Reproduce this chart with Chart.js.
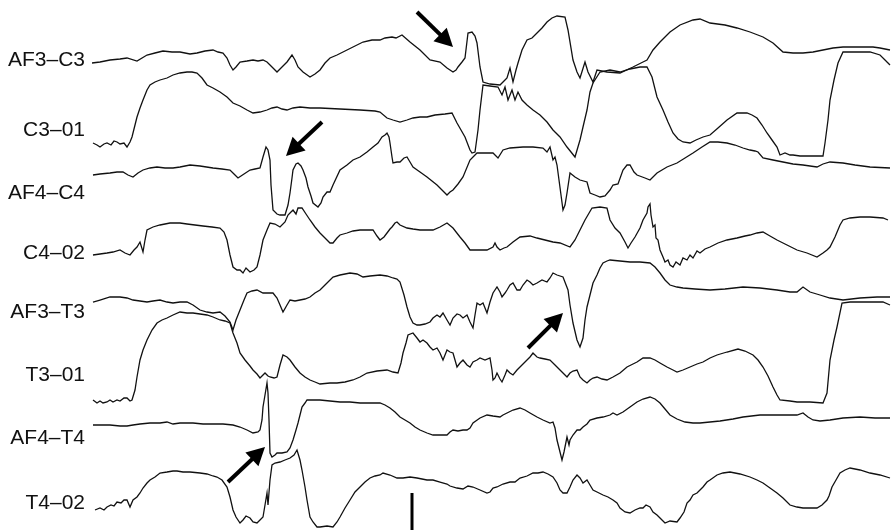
<!DOCTYPE html>
<html>
<head>
<meta charset="utf-8">
<script src="https://cdn.jsdelivr.net/npm/chart.js@4/dist/chart.umd.min.js"></script>
<style>
  html, body { margin: 0; padding: 0; background: #fff; }
  #wrap { width: 891px; height: 530px; }
</style>
</head>
<body>
<div id="wrap"><canvas id="c" width="891" height="530"></canvas></div>
<script>
// Channel names (top to bottom)
const channelNames = ["AF3\u2013C3", "C3\u201301", "AF4\u2013C4", "C4\u201302", "AF3\u2013T3", "T3\u201301", "AF4\u2013T4", "T4\u201302"];

// Each channel: [time (samples), amplitude (positive up)]
const af3c3 = [[2,-3],[10,-2],[20,0],[30,1],[37,2],[47,-1],[57,5],[65,7],[73,9],[82,8],[90,8],[100,6],[107,7],[115,9],[123,10],[128,8],[133,7],[137,2],[140,-5],[143,-10],[146,-7],[150,-2],[157,-1],[163,0],[168,-1],[173,0],[177,-2],[180,-5],[184,-9],[187,-12],[192,-7],[197,-2],[202,5],[205,0],[208,-7],[213,-12],[220,-17],[225,-14],[230,-10],[235,-3],[240,2],[247,5],[255,9],[263,13],[273,18],[282,20],[290,20],[295,22],[302,23],[306,22],[312,25],[320,18],[330,10],[340,0],[350,-2],[357,-8],[363,-12],[366,-10],[368,-7],[372,-2],[375,2],[378,27],[382,28],[385,24],[387,17],[390,-7],[393,-22],[400,-24],[410,-25],[415,-20],[417,-18],[420,-8],[423,-22],[426,-10],[428,-3],[432,10],[437,20],[442,22],[447,27],[452,32],[457,38],[462,42],[467,44],[475,43],[478,30],[483,0],[487,-12],[490,-18],[495,-2],[498,-12],[503,-22],[507,-10],[517,-12],[530,-13],[543,-7],[553,-2],[557,0],[563,10],[570,18],[580,28],[590,35],[603,40],[610,41],[620,37],[635,35],[647,32],[660,28],[673,23],[683,17],[693,8],[703,7],[713,7],[723,8],[733,10],[743,12],[753,13],[768,13],[783,13],[790,12],[800,10]];

const c3o1 = [[3,-13],[7,-15],[10,-17],[14,-14],[17,-13],[21,-15],[24,-11],[27,-12],[30,-14],[34,-13],[37,-17],[40,-12],[42,-7],[45,5],[47,13],[50,22],[53,30],[57,40],[60,45],[65,48],[70,50],[77,52],[83,55],[90,57],[97,58],[102,58],[107,57],[112,52],[117,45],[123,42],[130,38],[137,33],[143,27],[150,24],[157,20],[163,17],[170,18],[177,20],[182,22],[187,23],[192,21],[197,20],[203,22],[210,23],[220,22],[230,22],[250,21],[270,20],[285,19],[290,18],[297,12],[303,10],[310,8],[317,10],[323,12],[330,13],[337,13],[345,15],[355,16],[362,17],[367,7],[375,-7],[380,-20],[382,-23],[385,-22],[388,0],[390,20],[393,45],[400,44],[408,43],[412,35],[415,43],[418,30],[422,40],[425,30],[428,38],[432,30],[437,25],[443,20],[450,15],[457,8],[463,0],[470,-7],[477,-17],[481,-22],[485,-27],[490,-10],[493,3],[497,20],[500,38],[503,47],[510,58],[520,60],[530,58],[540,61],[550,63],[557,63],[562,53],[567,33],[573,20],[578,8],[583,-3],[588,-9],[593,-12],[600,-13],[606,-10],[613,-7],[620,-5],[628,2],[637,10],[647,17],[657,17],[662,15],[667,12],[672,5],[677,-3],[682,-10],[687,-17],[690,-25],[695,-23],[700,-25],[703,-25],[710,-26],[720,-26],[733,-26],[735,-13],[738,10],[740,30],[744,50],[748,67],[753,78],[765,78],[780,78],[790,75],[795,70],[800,65]];

const af4c4 = [[3,18],[10,19],[20,20],[27,21],[33,21],[38,18],[43,16],[48,20],[53,23],[60,25],[67,26],[75,25],[83,25],[90,26],[100,28],[110,27],[123,25],[132,24],[140,23],[144,19],[148,15],[154,19],[160,23],[165,24],[170,25],[173,36],[176,46],[178,43],[180,33],[181,8],[183,-17],[187,-21],[190,-22],[195,-22],[198,-12],[200,0],[202,15],[203,23],[206,29],[208,30],[211,27],[213,23],[216,15],[218,6],[221,-3],[223,-10],[228,-14],[231,-10],[233,-4],[237,1],[240,1],[243,8],[250,23],[257,28],[263,33],[270,36],[277,41],[283,46],[288,50],[292,56],[295,58],[297,60],[299,56],[300,50],[302,36],[303,30],[307,31],[310,31],[314,35],[317,36],[320,31],[323,26],[330,21],[337,16],[347,8],[357,-2],[360,1],[363,3],[368,9],[373,16],[380,33],[387,40],[395,40],[403,40],[408,35],[413,43],[420,45],[433,46],[443,46],[453,45],[457,41],[460,46],[463,33],[465,36],[467,28],[469,13],[471,-2],[473,-17],[475,-12],[477,0],[480,20],[485,16],[490,13],[497,11],[500,0],[505,-2],[510,-4],[515,-3],[520,3],[523,8],[528,9],[533,23],[537,28],[540,28],[544,21],[547,18],[555,15],[560,13],[567,20],[577,26],[587,30],[595,35],[603,40],[612,46],[620,51],[628,51],[637,50],[645,48],[653,45],[660,43],[665,42],[668,41],[673,35],[683,33],[693,31],[703,29],[713,28],[727,26],[733,29],[740,31],[753,30],[765,28],[780,26],[800,25]];

const c4o2 = [[3,-2],[10,-1],[17,0],[23,1],[30,3],[35,0],[40,-2],[44,3],[47,6],[50,11],[53,1],[55,13],[57,23],[63,26],[70,28],[80,30],[90,30],[97,29],[105,28],[113,27],[122,26],[130,25],[134,21],[137,13],[140,-2],[143,-14],[147,-17],[150,-17],[153,-20],[156,-15],[160,-19],[164,-17],[167,-14],[170,-2],[173,13],[177,23],[180,30],[185,29],[190,26],[195,31],[198,38],[201,41],[203,43],[206,39],[208,45],[212,45],[216,39],[220,33],[225,26],[230,20],[235,15],[240,10],[243,10],[247,15],[250,18],[257,20],[263,22],[270,23],[277,23],[283,23],[287,17],[290,13],[294,16],[297,20],[300,24],[302,26],[305,30],[307,31],[310,28],[317,25],[323,24],[330,23],[337,23],[343,23],[350,26],[357,30],[363,25],[370,16],[375,10],[380,3],[387,3],[397,3],[403,6],[405,10],[407,6],[410,3],[414,5],[417,6],[423,11],[430,16],[440,17],[447,15],[455,13],[463,11],[470,10],[480,6],[485,13],[490,23],[495,33],[502,45],[510,46],[517,45],[520,33],[525,25],[530,20],[535,11],[538,5],[541,10],[545,16],[550,25],[553,33],[557,40],[558,46],[560,49],[561,38],[563,26],[565,28],[566,15],[568,13],[570,3],[573,-4],[575,-9],[578,-7],[580,-12],[583,-14],[586,-9],[590,-12],[593,-5],[597,-7],[600,-2],[603,-5],[607,2],[610,0],[615,4],[620,6],[628,10],[637,13],[647,15],[655,17],[660,18],[667,20],[673,21],[680,17],[687,13],[697,8],[707,3],[717,0],[727,-4],[733,0],[737,3],[740,6],[745,16],[750,28],[753,33],[760,35],[770,36],[780,36],[793,35],[798,33]];

const af3t3 = [[3,10],[10,12],[20,15],[30,15],[37,14],[43,12],[50,11],[57,10],[63,11],[70,12],[77,10],[83,9],[90,10],[97,10],[103,7],[110,2],[117,0],[123,-1],[130,0],[135,-4],[140,-10],[143,-18],[146,-8],[150,2],[154,12],[157,19],[162,21],[167,22],[173,19],[178,19],[183,19],[187,14],[190,7],[193,0],[197,7],[200,12],[205,11],[210,12],[215,13],[220,15],[225,19],[230,22],[235,27],[243,35],[250,37],[260,39],[267,38],[273,35],[280,36],[290,37],[297,36],[303,34],[307,33],[310,30],[314,17],[317,5],[320,-5],[323,-11],[327,-13],[330,-13],[335,-12],[340,-10],[343,-6],[347,-3],[350,-5],[353,-1],[357,-8],[360,-13],[363,-6],[367,-2],[370,-3],[373,-6],[377,-3],[380,-10],[383,-16],[385,-3],[387,9],[390,7],[393,9],[397,-1],[400,10],[403,19],[407,25],[410,20],[412,15],[415,19],[417,22],[420,27],[423,29],[427,22],[430,22],[433,27],[437,32],[440,30],[443,27],[447,29],[452,32],[457,30],[460,34],[463,39],[467,37],[473,35],[478,22],[480,7],[483,-11],[487,-28],[490,-35],[493,-26],[495,-8],[497,5],[500,17],[503,29],[507,37],[510,44],[513,49],[517,51],[520,52],[530,51],[540,50],[550,50],[560,49],[565,45],[570,39],[575,32],[580,27],[587,25],[593,24],[605,23],[620,22],[635,23],[653,25],[670,24],[687,22],[700,20],[707,20],[713,25],[720,20],[730,17],[740,14],[753,12],[770,14],[787,15],[800,15]];

const t3o1 = [[3,-25],[7,-28],[10,-26],[13,-28],[17,-27],[20,-25],[23,-27],[27,-25],[30,-26],[34,-23],[37,-23],[40,-26],[42,-25],[45,-15],[47,-2],[50,15],[53,25],[57,35],[62,45],[67,52],[72,55],[77,57],[83,60],[90,63],[97,62],[103,62],[110,61],[117,60],[123,58],[130,55],[135,54],[140,52],[143,42],[147,32],[150,22],[155,15],[160,9],[163,5],[167,1],[170,-3],[173,0],[175,2],[178,-1],[180,-2],[184,-3],[187,-2],[190,10],[193,20],[197,18],[200,15],[205,8],[210,2],[215,-2],[220,-5],[225,-7],[230,-9],[240,-8],[247,-8],[255,-7],[263,-5],[270,-2],[277,2],[287,4],[297,5],[303,3],[308,2],[311,12],[313,22],[316,32],[318,40],[323,42],[327,37],[330,33],[333,35],[337,32],[340,28],[343,25],[347,27],[350,22],[353,15],[355,20],[357,25],[360,23],[363,22],[365,15],[367,8],[370,12],[373,15],[377,10],[380,8],[383,13],[387,15],[390,17],[395,15],[400,17],[402,5],[403,-5],[405,-3],[407,2],[410,-4],[412,-7],[415,0],[417,5],[420,2],[423,0],[427,5],[430,8],[433,11],[437,15],[440,18],[443,22],[447,18],[450,17],[455,16],[460,15],[465,10],[470,5],[473,2],[477,-2],[480,2],[483,4],[487,5],[490,-2],[493,-5],[497,-8],[500,-5],[503,-3],[507,-2],[512,-4],[517,-5],[523,-2],[530,2],[537,8],[543,11],[547,13],[553,17],[560,17],[565,15],[570,12],[577,8],[583,5],[587,3],[593,5],[600,8],[607,11],[613,13],[620,17],[627,20],[637,23],[648,26],[655,24],[663,20],[668,15],[673,8],[678,-1],[683,-12],[687,-20],[690,-25],[700,-26],[707,-27],[720,-27],[733,-28],[737,-18],[740,15],[744,35],[747,48],[752,72],[760,73],[775,73],[793,73],[800,70]];

const af4t4 = [[3,13],[10,13],[20,13],[30,12],[37,12],[43,13],[50,14],[60,15],[70,15],[77,16],[83,14],[90,15],[103,15],[113,14],[123,14],[133,14],[143,13],[150,11],[157,8],[163,5],[168,6],[170,8],[172,18],[173,31],[175,43],[177,55],[178,45],[179,18],[180,-15],[182,-19],[185,-17],[187,-15],[192,-15],[197,-14],[200,-10],[203,-2],[206,8],[208,15],[210,23],[212,31],[215,35],[217,38],[223,38],[230,38],[240,37],[250,36],[260,36],[270,35],[280,35],[290,35],[295,33],[300,30],[305,26],[310,21],[315,18],[320,15],[325,11],[330,8],[337,5],[343,3],[350,3],[357,3],[360,6],[363,8],[368,7],[373,8],[377,8],[380,10],[383,15],[390,20],[397,23],[403,22],[410,21],[413,23],[417,25],[423,28],[430,30],[435,28],[440,25],[447,21],[453,18],[460,15],[463,16],[465,10],[467,-2],[470,-14],[472,-22],[474,-14],[477,1],[479,-7],[480,-2],[483,3],[487,8],[490,8],[493,11],[497,14],[500,18],[507,20],[513,21],[520,23],[523,25],[527,23],[533,26],[540,31],[547,36],[553,39],[560,41],[565,39],[570,35],[575,29],[580,23],[587,19],[595,16],[603,15],[610,15],[620,16],[630,17],[643,19],[653,21],[670,23],[690,23],[707,23],[713,25],[718,21],[723,18],[730,17],[740,18],[753,20],[770,21],[785,20],[800,20]];

const t4o2 = [[5,-7],[10,-5],[14,-7],[17,-4],[21,-2],[24,-3],[27,1],[31,0],[34,3],[37,3],[40,-4],[43,3],[47,6],[50,10],[53,15],[57,20],[60,23],[65,26],[70,30],[77,31],[83,32],[87,32],[93,31],[100,31],[110,30],[117,29],[123,27],[127,26],[132,23],[137,16],[140,6],[143,-7],[146,-14],[150,-20],[153,-17],[156,-13],[160,-15],[163,-19],[167,-20],[170,-17],[173,-14],[175,-2],[177,10],[178,-2],[180,23],[182,38],[185,40],[190,41],[195,43],[200,45],[204,48],[207,53],[210,43],[212,33],[215,16],[217,3],[220,-14],[223,-19],[227,-24],[230,-24],[237,-23],[243,-24],[247,-19],[250,-14],[255,-5],[260,3],[265,11],[270,16],[275,21],[280,25],[285,27],[290,28],[293,30],[300,28],[307,25],[313,25],[320,26],[327,25],[337,23],[343,23],[350,21],[357,19],[360,17],[367,15],[373,14],[378,17],[383,16],[390,13],[397,10],[400,11],[403,15],[407,16],[413,19],[420,21],[425,21],[430,25],[437,27],[443,30],[448,30],[453,31],[458,29],[463,26],[467,20],[470,13],[473,10],[477,10],[480,16],[483,23],[487,28],[490,25],[493,20],[497,23],[500,18],[503,13],[507,11],[513,8],[518,6],[523,3],[527,0],[530,-5],[535,-9],[540,-10],[545,-7],[550,-5],[553,-5],[556,-2],[560,-4],[563,-9],[567,-12],[570,-15],[575,-20],[580,-18],[587,-19],[590,-15],[594,-9],[597,0],[600,3],[603,8],[607,10],[610,13],[613,16],[617,21],[620,23],[627,28],[633,30],[640,31],[650,29],[660,26],[667,23],[673,20],[680,15],[687,10],[693,5],[700,-2],[707,-4],[713,-5],[720,-5],[727,-5],[732,-2],[737,3],[739,7],[741,13],[742,16],[746,23],[750,30],[755,33],[760,35],[770,33],[780,30],[790,28],[800,25]];

const channelData = [af3c3, c3o1, af4c4, c4o2, af3t3, t3o1, af4t4, t4o2];

// Vertical placement of each channel's baseline on the stacked axis
const channelOffsets = [470, 400, 337, 277, 218, 155, 92, 27];

// Calibration bar: time and amplitude span
const calTime = 322;
const calSpan = [0, 37];

// Arrows: [tailTime, tailLevel, tipTime, tipLevel] on the stacked axis
const arrows = [
  [327, 518, 363, 483],
  [232, 408, 196, 374],
  [438, 182, 473, 217],
  [138, 48, 175, 83]
];

const datasets = channelData.map((ch, i) => ({
  label: channelNames[i],
  data: ch.map(([t, v]) => ({ x: t, y: channelOffsets[i] + v })),
  borderColor: '#111',
  borderWidth: 1.3,
  pointRadius: 0,
  tension: 0,
  fill: false
}));
datasets.push({
  label: 'cal',
  data: calSpan.map(v => ({ x: calTime, y: v })),
  borderColor: '#000',
  borderWidth: 3,
  borderCapStyle: 'butt',
  pointRadius: 0,
  fill: false
});

const arrowPlugin = {
  id: 'arrows',
  afterDatasetsDraw(chart) {
    const { ctx, scales: { x, y } } = chart;
    ctx.save();
    ctx.fillStyle = '#000';
    ctx.strokeStyle = '#000';
    arrows.forEach(([t0, l0, t1, l1]) => {
      const x0 = x.getPixelForValue(t0), y0 = y.getPixelForValue(l0);
      const x1 = x.getPixelForValue(t1), y1 = y.getPixelForValue(l1);
      const ang = Math.atan2(y1 - y0, x1 - x0);
      const headLen = 18, headHalf = 9.5;
      const bx = x1 - headLen * Math.cos(ang), by = y1 - headLen * Math.sin(ang);
      ctx.lineWidth = 4;
      ctx.lineCap = 'butt';
      ctx.beginPath();
      ctx.moveTo(x0, y0);
      ctx.lineTo(bx + 2 * Math.cos(ang), by + 2 * Math.sin(ang));
      ctx.stroke();
      ctx.beginPath();
      ctx.moveTo(x1, y1);
      ctx.lineTo(bx + headHalf * Math.sin(ang), by - headHalf * Math.cos(ang));
      ctx.lineTo(bx - headHalf * Math.sin(ang), by + headHalf * Math.cos(ang));
      ctx.closePath();
      ctx.fill();
    });
    ctx.restore();
  }
};

new Chart(document.getElementById('c'), {
  type: 'line',
  data: { datasets },
  options: {
    responsive: false,
    animation: false,
    layout: { padding: 0 },
    plugins: { legend: { display: false }, tooltip: { enabled: false } },
    scales: {
      x: { type: 'linear', min: 0, max: 801, display: false },
      y: {
        type: 'linear', min: 0, max: 530,
        grid: { display: false, drawTicks: false },
        border: { display: false },
        ticks: {
          autoSkip: false,
          padding: 5,
          color: '#111',
          font: { family: "'Liberation Sans', Arial, sans-serif", size: 21 },
          callback: (val) => {
            const idx = channelOffsets.indexOf(val);
            return idx >= 0 ? channelNames[idx] : '';
          }
        },
        afterBuildTicks: (scale) => {
          scale.ticks = channelOffsets.map(v => ({ value: v }));
        },
        afterFit: (scale) => {
          scale.width = 90;
          scale.paddingTop = 0;
          scale.paddingBottom = 0;
        }
      }
    }
  },
  plugins: [arrowPlugin]
});
</script>
</body>
</html>
